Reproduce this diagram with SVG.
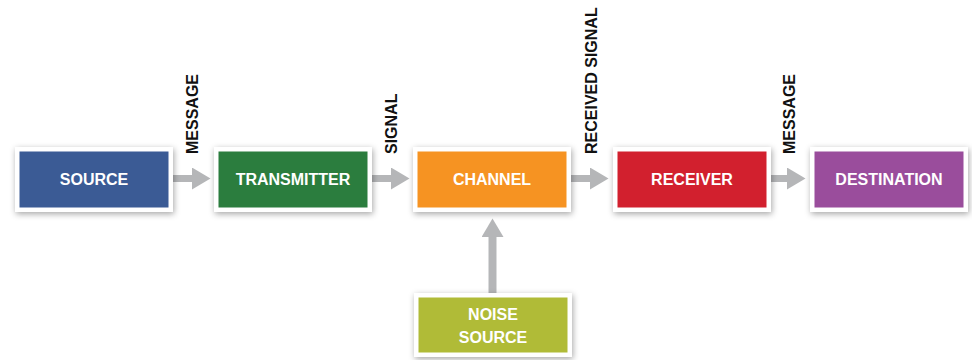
<svg xmlns="http://www.w3.org/2000/svg" width="972" height="360" viewBox="0 0 972 360">
  <defs>
    <filter id="sh" x="-20%" y="-40%" width="140%" height="180%">
      <feDropShadow dx="1" dy="2" stdDeviation="3" flood-color="#000" flood-opacity="0.35"/>
    </filter>
    <marker id="ah" markerUnits="userSpaceOnUse" markerWidth="19" markerHeight="22" refX="0" refY="11" orient="auto">
      <path d="M0,0 L18.5,11 L0,22 Z" fill="#b5b6b8"/>
    </marker>
    <style>
      .frame { fill: #ffffff; filter: url(#sh); }
      .lbl { font-family: "Liberation Sans", Arial, sans-serif; font-weight: bold; font-size: 16px; fill: #ffffff; text-anchor: middle; }
      .edge { font-family: "Liberation Sans", Arial, sans-serif; font-weight: bold; font-size: 16px; fill: #111111; }
      .conn { stroke: #b5b6b8; fill: none; }
    </style>
  </defs>
  <rect width="972" height="360" fill="#ffffff"/>

  <g id="connectors">
    <line class="conn" x1="173" y1="178.5" x2="192" y2="178.5" stroke-width="7" marker-end="url(#ah)"/>
    <line class="conn" x1="372" y1="178.5" x2="391" y2="178.5" stroke-width="7" marker-end="url(#ah)"/>
    <line class="conn" x1="571" y1="178.5" x2="590" y2="178.5" stroke-width="7" marker-end="url(#ah)"/>
    <line class="conn" x1="771" y1="178.5" x2="787" y2="178.5" stroke-width="7" marker-end="url(#ah)"/>
    <line class="conn" x1="492.5" y1="293" x2="492.5" y2="237" stroke-width="8" marker-end="url(#ah)"/>
    <text class="edge" transform="translate(198,154) rotate(-90)">MESSAGE</text>
    <text class="edge" transform="translate(397,154) rotate(-90)">SIGNAL</text>
    <text class="edge" transform="translate(597,154) rotate(-90)">RECEIVED SIGNAL</text>
    <text class="edge" transform="translate(795,154) rotate(-90)">MESSAGE</text>
  </g>

  <g id="source">
    <rect class="frame" x="15" y="147" width="158" height="65"/>
    <rect x="19.5" y="151.5" width="149" height="56" fill="#3b5b95"/>
    <text class="lbl" x="94" y="185">SOURCE</text>
  </g>
  <g id="transmitter">
    <rect class="frame" x="214" y="147" width="158" height="65"/>
    <rect x="218.5" y="151.5" width="149" height="56" fill="#2b7d3e"/>
    <text class="lbl" x="293" y="185">TRANSMITTER</text>
  </g>
  <g id="channel">
    <rect class="frame" x="413" y="147" width="158" height="65"/>
    <rect x="417.5" y="151.5" width="149" height="56" fill="#f69322"/>
    <text class="lbl" x="492" y="185">CHANNEL</text>
  </g>
  <g id="receiver">
    <rect class="frame" x="613" y="147" width="158" height="65"/>
    <rect x="617.5" y="151.5" width="149" height="56" fill="#d2202e"/>
    <text class="lbl" x="692" y="185">RECEIVER</text>
  </g>
  <g id="destination">
    <rect class="frame" x="810" y="147" width="158" height="65"/>
    <rect x="814.5" y="151.5" width="149" height="56" fill="#9a4d9c"/>
    <text class="lbl" x="889" y="185">DESTINATION</text>
  </g>
  <g id="noise-source">
    <rect class="frame" x="414" y="293" width="158" height="64"/>
    <rect x="418.5" y="297.5" width="149" height="55" fill="#b0bb37"/>
    <text class="lbl" x="493" y="320">NOISE</text>
    <text class="lbl" x="493" y="343">SOURCE</text>
  </g>
</svg>
